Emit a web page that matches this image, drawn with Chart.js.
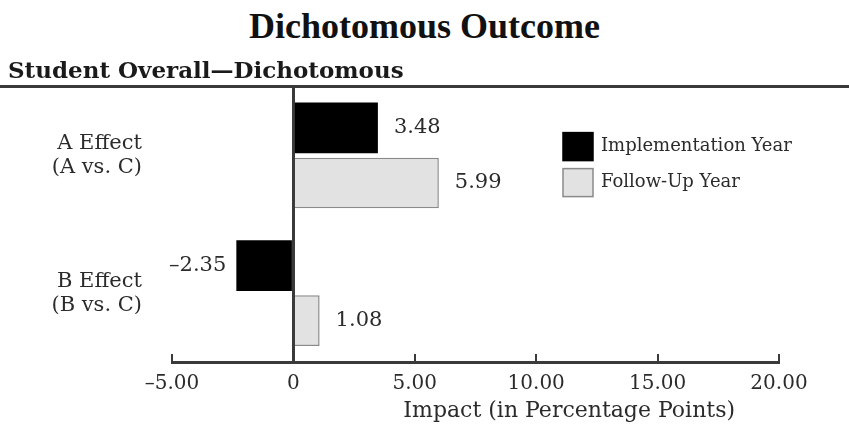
<!DOCTYPE html>
<html>
<head>
<meta charset="utf-8">
<script src="https://cdn.jsdelivr.net/npm/chart.js@4/dist/chart.umd.min.js"></script>
<style>
  html, body { margin: 0; padding: 0; background: #fff; }
  #title {
    width: 849px; height: 52px; box-sizing: border-box; padding-top: 5px;
    text-align: center; line-height: 47px;
    font: bold 36px 'Liberation Serif', serif; color: #111;
  }
  #wrap { width: 849px; height: 385px; }
</style>
</head>
<body>
<div id="title">Dichotomous Outcome</div>
<div id="wrap"><canvas id="myChart"></canvas></div>
<script>
var categories = [["A Effect", "(A vs. C)"], ["B Effect", "(B vs. C)"]];
var seriesNames = ["Implementation Year", "Follow-Up Year"];
var implementationValues = [3.48, -2.35];
var followUpValues = [5.99, 1.08];
var tickLabels = ["\u20135.00", "0", "5.00", "10.00", "15.00", "20.00"];
var barColors = ["#000000", "#e2e2e2"];
var borderColors = ["#000000", "#8a8a8a"];
var axisTitle = "Impact (in Percentage Points)";

var serif = "'DejaVu Serif', 'Liberation Serif', serif";
var ink = "#2b2b2b";

// line under the subtitle, full page width
const ruleLine = {
  id: "ruleLine",
  beforeDatasetsDraw(chart) {
    const c = chart.ctx, y = chart.chartArea.top;
    c.save();
    c.strokeStyle = "#3a3a3a";
    c.lineWidth = 3;
    c.beginPath();
    c.moveTo(0, y);
    c.lineTo(chart.width, y);
    c.stroke();
    c.restore();
  }
};

// value labels next to each bar
const barLabels = {
  id: "barLabels",
  afterDatasetsDraw(chart) {
    const c = chart.ctx;
    c.save();
    c.font = "21px " + serif;
    c.fillStyle = ink;
    c.textBaseline = "middle";
    chart.data.datasets.forEach((ds, i) => {
      chart.getDatasetMeta(i).data.forEach((bar, j) => {
        const v = ds.data[j];
        const txt = (v < 0 ? "\u2013" : "") + Math.abs(v).toFixed(2);
        if (v < 0) {
          c.textAlign = "right";
          c.fillText(txt, bar.x - 10, bar.y);
        } else {
          c.textAlign = "left";
          c.fillText(txt, bar.x + 16, bar.y);
        }
      });
    });
    c.restore();
  }
};

// legend inside the plot (top right) + x axis title
const extras = {
  id: "extras",
  afterDraw(chart) {
    const c = chart.ctx, a = chart.chartArea, xs = chart.scales.x;
    const x0 = a.right - 216;
    c.save();
    c.font = "18px " + serif;
    c.textBaseline = "middle";
    c.textAlign = "left";
    chart.data.datasets.forEach((ds, i) => {
      const yc = a.top + 60 + i * 36;
      c.fillStyle = ds.backgroundColor;
      c.fillRect(x0, yc - 14, 30, 28);
      c.strokeStyle = ds.borderColor;
      c.lineWidth = 1.5;
      c.strokeRect(x0, yc - 14, 30, 28);
      c.fillStyle = ink;
      c.fillText(ds.label, x0 + 38, yc);
    });
    c.font = "22px " + serif;
    c.textAlign = "center";
    c.textBaseline = "alphabetic";
    c.fillText(axisTitle, (xs.getPixelForValue(0) + xs.right) / 2 + 33, xs.top + 55);
    c.restore();
  }
};

new Chart("myChart", {
  type: "bar",
  data: {
    labels: categories,
    datasets: [{
      label: seriesNames[0],
      data: implementationValues,
      backgroundColor: barColors[0],
      borderColor: borderColors[0],
      borderWidth: 0
    }, {
      label: seriesNames[1],
      data: followUpValues,
      backgroundColor: barColors[1],
      borderColor: borderColors[1],
      borderWidth: 1.5
    }]
  },
  options: {
    indexAxis: "y",
    responsive: true,
    maintainAspectRatio: false,
    animation: false,
    layout: { padding: { left: 8, right: 70, top: 2, bottom: 4 } },
    datasets: { bar: { categoryPercentage: 0.8, barPercentage: 0.92 } },
    plugins: {
      legend: { display: false },
      tooltip: { enabled: false },
      subtitle: {
        display: true,
        text: "Student Overall\u2014Dichotomous",
        align: "start",
        color: "#1a1a1a",
        font: { family: serif, size: 23, weight: "bold", lineHeight: 1.2 },
        padding: { top: 4, bottom: 1 }
      }
    },
    scales: {
      x: {
        min: -5,
        max: 20,
        ticks: {
          stepSize: 5,
          color: ink,
          font: { family: serif, size: 20 },
          padding: 18,
          callback: (v, i) => tickLabels[i]
        },
        grid: {
          color: ctx => ctx.tick && ctx.tick.value === 0 ? "#3a3a3a" : "rgba(0,0,0,0)",
          lineWidth: ctx => ctx.tick && ctx.tick.value === 0 ? 3 : 0,
          tickColor: "#3a3a3a",
          tickWidth: 2,
          tickLength: -8
        },
        border: { display: true, color: "#3a3a3a", width: 3 },
        afterFit: s => { s.height = 71; }
      },
      y: {
        ticks: {
          color: ink,
          font: { family: serif, size: 21, lineHeight: 1.15 },
          padding: 22
        },
        grid: { display: false },
        border: { display: false },
        afterFit: s => { s.width = 164; s.paddingTop = 0; s.paddingBottom = 0; }
      }
    }
  },
  plugins: [ruleLine, barLabels, extras]
});
</script>
</body>
</html>
